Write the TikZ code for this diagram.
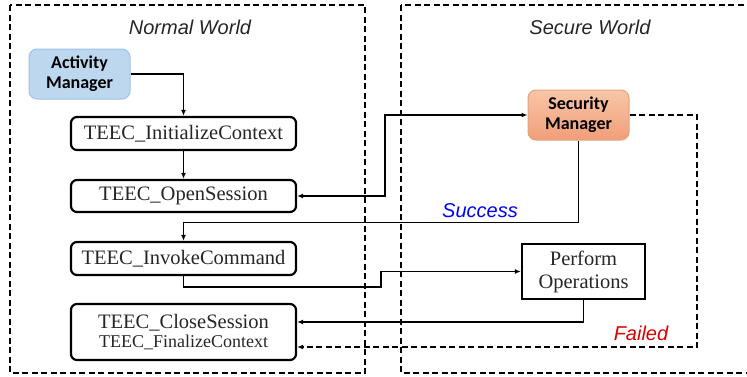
\documentclass[tikz,border=0pt]{standalone}
\usepackage{fontspec}
\setmainfont{Liberation Serif}
\newfontfamily\arialf{Liberation Sans}
\newfontfamily\calib{Carlito}
\usetikzlibrary{arrows.meta}
\definecolor{amfill}{HTML}{BDD7EE}
\definecolor{amdraw}{HTML}{9DC3E6}
\definecolor{smtop}{HTML}{F8C6A8}
\definecolor{smbot}{HTML}{F19E78}
\definecolor{smdraw}{HTML}{E3A27F}
\definecolor{txt}{HTML}{262626}
\tikzset{
  world/.style={draw, line width=1.6pt, dash pattern=on 6pt off 3.5pt},
  worldlabel/.style={font=\arialf\itshape\fontsize{20}{22}\selectfont, text=txt},
  teec/.style={draw, line width=2.2pt, rounded corners=6pt, minimum width=225pt, text=txt, font=\fontsize{20.5}{22}\selectfont, inner sep=0pt, align=center},
  mgr/.style={rounded corners=8pt, minimum width=101pt, minimum height=50pt, align=center, font=\calib\bfseries\fontsize{18}{20}\selectfont, inner sep=0pt},
  conn/.style={line width=1.8pt, -{Latex[length=6pt,width=5pt]}},
  dconn/.style={conn, dash pattern=on 6pt off 3.5pt},
}
\begin{document}
\begin{tikzpicture}[x=1pt,y=-1pt]
\useasboundingbox (0,0) rectangle (747,376);
\clip (0,0) rectangle (747,376);
% worlds
\draw[world] (10,5) rectangle (365,373);
\draw[world] (401,5) rectangle (760,373);
\node[worldlabel] (nwl) at (190,27) {Normal World};
\node[worldlabel] (swl) at (590,27) {Secure World};
% nodes
\node[mgr, fill=amfill, draw=amdraw, line width=1pt, text=black] (am) at (79.5,74) {Activity\\Manager};
\node[teec, minimum height=33pt] (init) at (183.5,133.5) {TEEC\_InitializeContext};
\node[teec, minimum height=32pt] (open) at (183.5,196) {TEEC\_OpenSession};
\node[teec, minimum height=33pt] (invoke) at (183.5,258.5) {TEEC\_InvokeCommand};
\node[teec, minimum height=56pt] (close) at (183.5,332) {TEEC\_CloseSession\\[-3pt]{\fontsize{18}{20}\selectfont TEEC\_FinalizeContext}};
\node[mgr, top color=smtop, bottom color=smbot, draw=smdraw, line width=1pt, text=black] (sm) at (578.5,115) {Security\\Manager};
\node[draw, line width=2.2pt, minimum width=123pt, minimum height=55pt, align=center, inner sep=0pt, text=txt, font=\fontsize{20.5}{23}\selectfont] (perf) at (583.5,271.5) {Perform\\Operations};
% connectors
\draw[conn] (am.east) -| (init.north);
\draw[conn] (init.south) -- (open.north);
\draw[conn, {Latex[length=6pt,width=5pt]}-{Latex[length=6pt,width=5pt]}] (open.east) -- ++(88,0) |- (sm.west);
\draw[conn] (sm.south) -- ++(0,82) -| (invoke.north);
\draw[conn] (invoke.south) |- (381,287) |- (perf.west);
\draw[conn] (perf.south) |- ([yshift=10pt]close.east);
\draw[dconn] (sm.east) -- (697,115) |- ([yshift=-15pt]close.east);
% labels
\node[font=\arialf\itshape\fontsize{20}{22}\selectfont, text=blue] (succ) at (480,211) {Success};
\node[font=\arialf\itshape\fontsize{20}{22}\selectfont, text=red!85!black] (fail) at (641,333) {Failed};
\end{tikzpicture}
\end{document}
